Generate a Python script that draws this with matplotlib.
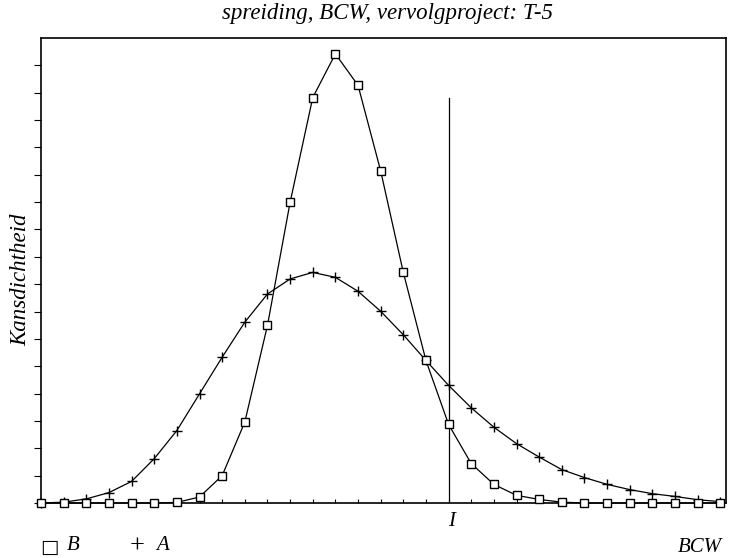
import numpy as np
import matplotlib
matplotlib.use("Agg")
import matplotlib.pyplot as plt

plt.rcParams['font.family'] = ['Liberation Serif', 'DejaVu Serif']

# BCW classes (index) and density values
x = np.arange(31)
dens_b = [0, 0, 0, 0, 0, 0, 0.02, 0.22, 1.0, 2.96, 6.49, 10.99, 14.82, 16.42, 15.27,
          12.14, 8.43, 5.21, 2.87, 1.44, 0.68, 0.28, 0.13, 0.03, 0, 0, 0, 0, 0, 0, 0]
dens_a = [0, 0.03, 0.15, 0.38, 0.79, 1.62, 2.65, 3.99, 5.33, 6.61, 7.64, 8.19, 8.43, 8.25,
          7.74, 7.01, 6.15, 5.21, 4.30, 3.48, 2.77, 2.17, 1.68, 1.22, 0.93, 0.68, 0.49,
          0.34, 0.24, 0.12, 0.05]
i_pos = 18
i_top = 14.8

fig = plt.figure(figsize=(7.34, 5.58), dpi=100)
ax = fig.add_axes([41/734, 55/558, 685/734, 465/558])

ax.plot(x, dens_a, color="black", lw=0.9, marker="+", ms=7, mew=1.0, clip_on=False)
ax.plot(x, dens_b, color="black", lw=0.9, marker="s", ms=6, mfc="white", mew=1.0,
        clip_on=False, zorder=3)

# vertical line at I
ax.plot([i_pos, i_pos], [0, i_top], color="black", lw=0.9)

ax.set_xlim(0, 30.25)
ax.set_ylim(0, 17)
ax.set_xticks(x)
ax.set_yticks(np.arange(17))
ax.set_xticklabels([])
ax.set_yticklabels([])
ax.tick_params(axis="x", direction="in", length=3, width=0.8)
ax.tick_params(axis="y", direction="out", length=5, width=0.8)
for s in ax.spines.values():
    s.set_linewidth(1.2)

fig.text(388/734, 1 - 13/558, "spreiding, BCW, vervolgproject: T-5", style="italic",
         fontsize=16.5, ha="center", va="center")
fig.text(21/734, 1 - 280/558, "Kansdichtheid", style="italic", fontsize=16.5,
         rotation=90, ha="center", va="center")

fig.text(452/734, 1 - 522/558, "I", style="italic", fontsize=15, ha="center", va="center")
fig.text(40/734, 1 - 547/558, "\u25a1", fontsize=14, ha="left", va="center",
         family=["DejaVu Sans"])
fig.text(67/734, 1 - 546/558, "B", style="italic", fontsize=15, ha="left", va="center")
fig.text(130/734, 1 - 547/558, "+", fontsize=19, ha="left", va="center")
fig.text(156/734, 1 - 546/558, "A", style="italic", fontsize=15, ha="left", va="center")
fig.text(722/734, 1 - 548/558, "BCW", style="italic", fontsize=15, ha="right", va="center")

fig.savefig("out.png", dpi=100)
